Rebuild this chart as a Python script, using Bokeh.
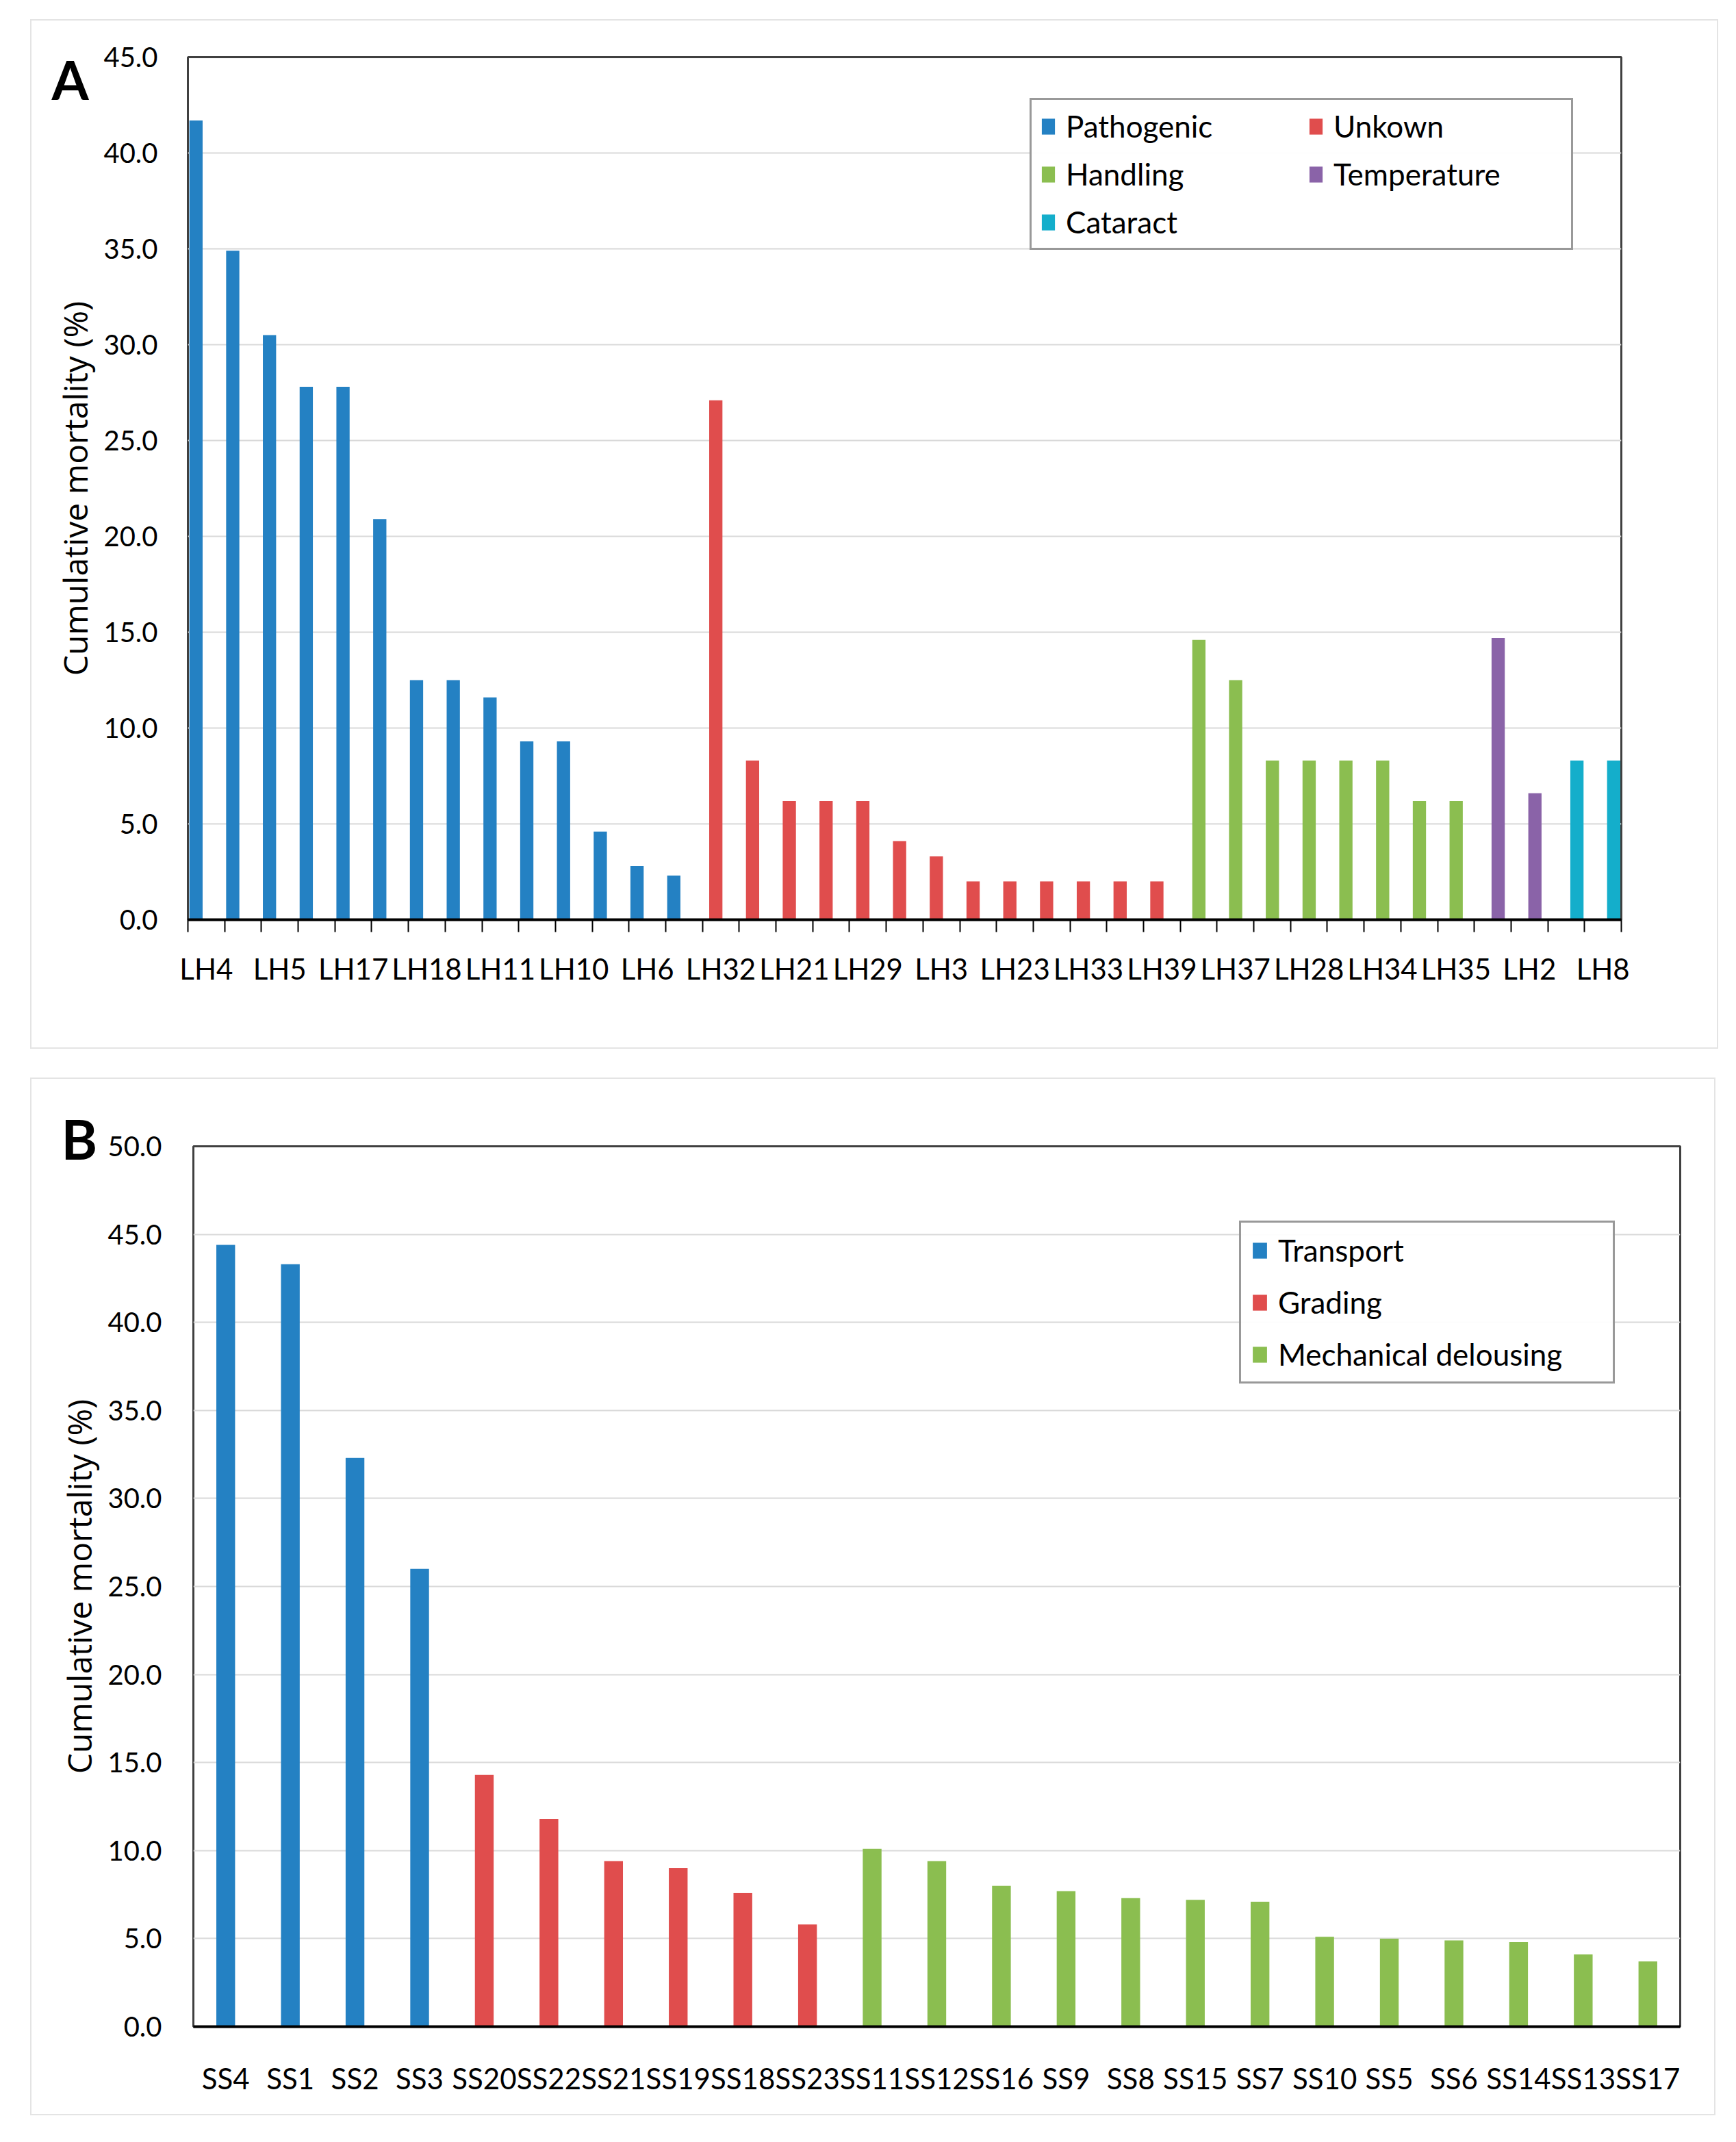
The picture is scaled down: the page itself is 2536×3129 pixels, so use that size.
from bokeh.plotting import figure
from bokeh.models import (ColumnDataSource, Range1d, FixedTicker, NumeralTickFormatter,
                          Legend, LegendItem, Title)
from bokeh.embed import file_html
from bokeh.resources import INLINE

# ---------------- Panel A data ----------------
a_labels = ["LH4", "", "LH5", "", "LH17", "", "LH18", "", "LH11", "", "LH10", "", "LH6", "",
            "LH32", "", "LH21", "", "LH29", "", "LH3", "", "LH23", "", "LH33", "", "LH39",
            "", "LH37", "", "LH28", "", "LH34", "", "LH35",
            "", "LH2",
            "", "LH8"]
a_values = [41.7, 34.9, 30.5, 27.8, 27.8, 20.9, 12.5, 12.5, 11.6, 9.3, 9.3, 4.6, 2.8, 2.3,
            27.1, 8.3, 6.2, 6.2, 6.2, 4.1, 3.3, 2.0, 2.0, 2.0, 2.0, 2.0, 2.0,
            14.6, 12.5, 8.3, 8.3, 8.3, 8.3, 6.2, 6.2,
            14.7, 6.6,
            8.3, 8.3]
a_cause = ["Pathogenic", "Pathogenic", "Pathogenic", "Pathogenic", "Pathogenic", "Pathogenic",
           "Pathogenic", "Pathogenic", "Pathogenic", "Pathogenic", "Pathogenic", "Pathogenic",
           "Pathogenic", "Pathogenic",
           "Unkown", "Unkown", "Unkown", "Unkown", "Unkown", "Unkown", "Unkown", "Unkown",
           "Unkown", "Unkown", "Unkown", "Unkown", "Unkown",
           "Handling", "Handling", "Handling", "Handling", "Handling", "Handling", "Handling",
           "Handling",
           "Temperature", "Temperature",
           "Cataract", "Cataract"]
a_groups = ["Pathogenic", "Unkown", "Handling", "Temperature", "Cataract"]
a_colors = ["#2481C3", "#E04D4D", "#8BBE50", "#8A63A8", "#14AECB"]
a_legend_order = ["Pathogenic", "Handling", "Cataract", "Unkown", "Temperature"]
a_yticks = [0, 5, 10, 15, 20, 25, 30, 35, 40, 45]

# ---------------- Panel B data ----------------
b_labels = ["SS4", "SS1", "SS2", "SS3", "SS20", "SS22", "SS21", "SS19", "SS18", "SS23",
            "SS11", "SS12", "SS16", "SS9", "SS8", "SS15", "SS7", "SS10", "SS5", "SS6",
            "SS14", "SS13", "SS17"]
b_values = [44.4, 43.3, 32.3, 26.0, 14.3, 11.8, 9.4, 9.0, 7.6, 5.8,
            10.1, 9.4, 8.0, 7.7, 7.3, 7.2, 7.1, 5.1, 5.0, 4.9, 4.8, 4.1, 3.7]
b_cause = ["Transport", "Transport", "Transport", "Transport",
           "Grading", "Grading", "Grading", "Grading", "Grading", "Grading",
           "Mechanical delousing", "Mechanical delousing", "Mechanical delousing",
           "Mechanical delousing", "Mechanical delousing", "Mechanical delousing",
           "Mechanical delousing", "Mechanical delousing", "Mechanical delousing",
           "Mechanical delousing", "Mechanical delousing", "Mechanical delousing",
           "Mechanical delousing"]
b_groups = ["Transport", "Grading", "Mechanical delousing"]
b_colors = ["#2481C3", "#E04D4D", "#8BBE50"]
b_yticks = [0, 5, 10, 15, 20, 25, 30, 35, 40, 45, 50]

FONT = "Lato"
TITLE_FONT = "Open Sans"


def style_common(p, yticks, ylabel_standoff):
    p.outline_line_color = "#404040"
    p.outline_line_width = 3
    p.xgrid.grid_line_color = None
    p.ygrid.ticker = FixedTicker(ticks=yticks)
    p.ygrid.grid_line_color = "#d9d9d9"
    p.ygrid.grid_line_width = 2
    ya = p.yaxis[0]
    ya.ticker = FixedTicker(ticks=yticks)
    ya.formatter = NumeralTickFormatter(format="0.0")
    ya.major_tick_out = 0
    ya.major_tick_in = 0
    ya.minor_tick_line_color = None
    ya.axis_line_color = None
    ya.major_label_standoff = ylabel_standoff
    ya.major_label_text_font = FONT
    ya.major_label_text_font_size = "40px"
    ya.major_label_text_color = "black"
    ya.axis_label = "Cumulative mortality (%)"
    ya.axis_label_text_font = TITLE_FONT
    ya.axis_label_text_font_size = "48px"
    ya.axis_label_text_font_style = "normal"
    ya.axis_label_text_color = "black"
    ya.axis_label_standoff = 6
    xa = p.xaxis[0]
    xa.axis_line_color = "black"
    xa.axis_line_width = 4
    xa.major_tick_out = 0
    xa.major_tick_in = 0
    xa.major_tick_line_color = None
    xa.major_label_text_font = FONT
    xa.major_label_text_color = "black"


def panel_letter(p, letter, offset, standoff, size):
    p.add_layout(Title(text=letter, align="left", offset=offset, standoff=standoff,
                       text_font=FONT, text_font_size=size, text_font_style="bold",
                       text_color="black"), "above")


# ---------------- Panel A ----------------
pA = figure(width=2466, height=1504, title=None,
            x_range=Range1d(-0.5, len(a_values) - 0.5), y_range=Range1d(0, 45),
            output_backend="svg", toolbar_location=None,
            min_border_left=228, min_border_top=53, min_border_right=144, min_border_bottom=191,
            margin=(28, 0, 0, 44), styles={"border": "2px solid #e4e4e4"})
style_common(pA, a_yticks, 44)

a_rend = {}
for g, (cause, col) in enumerate(zip(a_groups, a_colors)):
    idx = [i for i, c in enumerate(a_cause) if c == cause]
    src = ColumnDataSource(dict(x=[i - 0.5 + 0.22 + 0.143 * g for i in idx],
                                top=[a_values[i] for i in idx]))
    a_rend[cause] = pA.vbar(x="x", top="top", bottom=0, width=0.36, source=src,
                            fill_color=col, line_color=None)

xa = pA.xaxis[0]
a_ticks = [i for i, l in enumerate(a_labels) if l]
xa.ticker = FixedTicker(ticks=a_ticks, minor_ticks=[i - 0.5 for i in range(len(a_labels) + 1)])
xa.major_label_overrides = {i: a_labels[i] for i in a_ticks}
xa.minor_tick_out = 18
xa.minor_tick_in = 0
xa.minor_tick_line_color = "black"
xa.minor_tick_line_width = 2
xa.major_label_standoff = 28
xa.major_label_text_font_size = "42px"

legA = Legend(items=[LegendItem(label=c, renderers=[a_rend[c]]) for c in a_legend_order],
              location=(1230, 978), ncols=2,
              border_line_color="#333333", border_line_width=3,
              padding=12, spacing=18, glyph_width=24, glyph_height=29,
              label_standoff=14, label_width=335,
              label_text_font=FONT, label_text_font_size="44px",
              label_text_color="black", background_fill_color="white")
pA.add_layout(legA)
panel_letter(pA, "A", -199, -158, "78px")

# ---------------- Panel B ----------------
pB = figure(width=2462, height=1516, title=None,
            x_range=Range1d(-0.5, len(b_values) - 0.5), y_range=Range1d(0, 50),
            output_backend="svg", toolbar_location=None,
            min_border_left=236, min_border_top=98, min_border_right=54, min_border_bottom=132,
            margin=(42, 0, 0, 44), styles={"border": "2px solid #e4e4e4"})
style_common(pB, b_yticks, 46)

b_items = []
for cause, col in zip(b_groups, b_colors):
    idx = [i for i, c in enumerate(b_cause) if c == cause]
    src = ColumnDataSource(dict(x=idx, top=[b_values[i] for i in idx]))
    r = pB.vbar(x="x", top="top", bottom=0, width=0.29, source=src,
                fill_color=col, line_color=None)
    b_items.append(LegendItem(label=cause, renderers=[r]))

xb = pB.xaxis[0]
xb.ticker = FixedTicker(ticks=list(range(len(b_labels))))
xb.major_label_overrides = {i: l for i, l in enumerate(b_labels)}
xb.minor_tick_line_color = None
xb.major_label_standoff = 50
xb.major_label_text_font_size = "42px"

legB = Legend(items=b_items, location=(1528, 939),
              border_line_color="#333333", border_line_width=3,
              padding=14, spacing=24, glyph_width=26, glyph_height=29,
              label_standoff=14, label_width=475,
              label_text_font=FONT, label_text_font_size="44px",
              label_text_color="black", background_fill_color="white")
pB.add_layout(legB)
panel_letter(pB, "B", -193, -72, "80px")

open("out.html", "w").write(file_html([pA, pB], INLINE))
